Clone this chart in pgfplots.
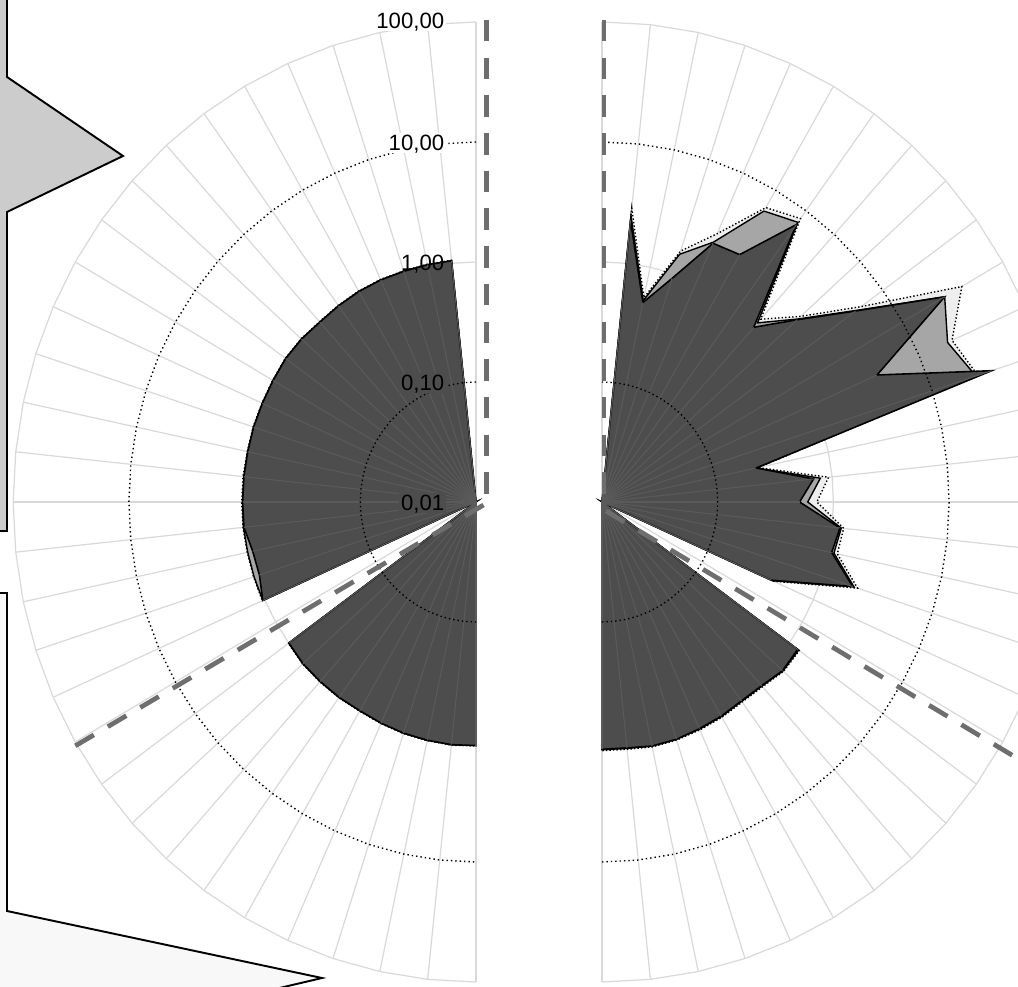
\documentclass[border=0pt]{standalone}
\usepackage{pgfplots}
\pgfplotsset{compat=1.18}
\usepackage{pgfplotstable}
\usepackage{fontspec}
\setmainfont{Liberation Sans}
\definecolor{darkfill}{HTML}{4D4D4D}
\definecolor{midfill}{HTML}{A6A6A6}
\definecolor{lightfill}{HTML}{EEEEEE}
\definecolor{gridgray}{HTML}{D9D9D9}
\definecolor{dashgray}{HTML}{6E6E6E}
\definecolor{innerspoke}{HTML}{5A5A5A}
\definecolor{shapegray}{HTML}{CCCCCC}
\definecolor{shapelight}{HTML}{F8F8F8}

% a = angle (deg), d = dark series, m = medium series, l = light (dotted) series
\pgfplotstableread{
a d m l
90 0.01 0.01 0.01
96 1.05 1.05 1.06
102 1.05 1.05 1.06
108 1.05 1.05 1.06
114 1.06 1.06 1.07
120 1.06 1.06 1.07
126 1.05 1.05 1.06
132 1.04 1.04 1.05
138 1.07 1.07 1.08
144 1.08 1.08 1.09
150 1.06 1.06 1.07
156 1.05 1.05 1.06
162 1.05 1.05 1.06
168 1.04 1.04 1.05
174 1.04 1.04 1.06
180 1.04 1.04 1.06
186 1.04 1.05 1.06
192 0.94 1.04 1.05
198 0.93 1.04 1.05
204 1.04 1.04 1.05
210 0.01 0.01 0.01
216 1.00 1.00 1.01
222 1.03 1.03 1.04
228 1.03 1.03 1.04
234 1.03 1.03 1.04
240 1.02 1.02 1.03
246 1.04 1.04 1.05
252 1.06 1.06 1.07
258 1.07 1.07 1.08
264 1.08 1.08 1.09
270 1.07 1.07 1.08
}\lefttab

\pgfplotstableread{
a d m l
90 0.01 0.01 0.01
84 2.29 2.5 2.9
78 0.50 0.52 0.55
72 0.91 1.48 1.58
66 2.29 2.35 2.8
60 2.40 6.3 6.8
54 7.2 7.6 8.3
48 0.91 1.02 1.12
42 1.86 1.9 2.05
36 5.1 5.2 5.9
30 26.3 26.3 39
24 4.0 18.6 20.5
18 34.7 25 26
12 0.23 0.23 0.24
6 0.69 0.79 0.93
0 0.51 0.60 0.72
-6 1.17 1.2 1.26
-12 1.07 1.12 1.2
-18 1.9 1.95 2.1
-24 0.40 0.41 0.42
-30 0.01 0.01 0.01
-36 1.23 1.26 1.28
-42 1.26 1.27 1.29
-48 1.15 1.16 1.18
-54 1.12 1.13 1.15
-60 1.15 1.16 1.18
-66 1.17 1.18 1.2
-72 1.2 1.2 1.22
-78 1.2 1.2 1.22
-84 1.15 1.16 1.18
-90 1.15 1.16 1.18
}\righttab

\begin{document}
\begin{tikzpicture}
\begin{axis}[width=10.18cm, height=9.86cm, scale only axis,
  xmin=-4.1141, xmax=4.6845, ymin=-4.0333, ymax=4.1833,
  hide axis, clip=true]
\path (rel axis cs:0,0) rectangle (rel axis cs:1,1);

% side shapes
\filldraw[fill=shapegray, draw=black, line width=0.55pt]
  (axis cs:-4.3,4.3) -- (axis cs:-4.0536,4.3) -- (axis cs:-4.0536,3.5417)
  -- (axis cs:-3.0510,2.8833) -- (axis cs:-4.0536,2.4167)
  -- (axis cs:-4.0536,-0.2417) -- (axis cs:-4.3,-0.2417) -- cycle;
\filldraw[fill=shapelight, draw=black, line width=0.55pt]
  (axis cs:-4.3,-0.7583) -- (axis cs:-4.0536,-0.7583) -- (axis cs:-4.0536,-3.4083)
  -- (axis cs:-1.331,-3.9667) -- (axis cs:-1.9187,-4.1) -- (axis cs:-4.3,-4.1) -- cycle;

% spokes
\pgfplotsinvokeforeach{0,...,30}{
  \draw[gridgray, line width=0.35pt] (axis cs:0,0) -- (axis cs:{4*cos(90+6*#1)},{4*sin(90+6*#1)});
  \draw[gridgray, line width=0.35pt] (axis cs:1.089,0) -- (axis cs:{1.089+4*cos(-90+6*#1)},{4*sin(-90+6*#1)});
}
% solid light rings (1 and 100)
\draw[gridgray, line width=0.35pt] plot[domain=90:270, samples=31, variable=\t] (axis cs:{4*cos(\t)},{4*sin(\t)});
\draw[gridgray, line width=0.35pt] plot[domain=90:270, samples=31, variable=\t] (axis cs:{2*cos(\t)},{2*sin(\t)});
\draw[gridgray, line width=0.35pt] plot[domain=-90:90, samples=31, variable=\t] (axis cs:{1.089+4*cos(\t)},{4*sin(\t)});
\draw[gridgray, line width=0.35pt] plot[domain=-90:90, samples=31, variable=\t] (axis cs:{1.089+2*cos(\t)},{2*sin(\t)});

% series, left half
\addplot[fill=lightfill, draw=black, line width=0.4pt, dash pattern=on 0.4pt off 0.6pt]
  table[x expr={(log10(\thisrow{l})+2)*cos(\thisrow{a})}, y expr={(log10(\thisrow{l})+2)*sin(\thisrow{a})}] {\lefttab} -- cycle;
\addplot[fill=midfill, draw=black, line width=0.4pt]
  table[x expr={(log10(\thisrow{m})+2)*cos(\thisrow{a})}, y expr={(log10(\thisrow{m})+2)*sin(\thisrow{a})}] {\lefttab} -- cycle;
\addplot[fill=darkfill, draw=black, line width=0.45pt]
  table[x expr={(log10(\thisrow{d})+2)*cos(\thisrow{a})}, y expr={(log10(\thisrow{d})+2)*sin(\thisrow{a})}] {\lefttab} -- cycle;
\addplot[draw=innerspoke, line width=0.3pt,
  quiver={u={-(log10(\thisrow{d})+2)*cos(\thisrow{a})}, v={-(log10(\thisrow{d})+2)*sin(\thisrow{a})}}]
  table[x expr={(log10(\thisrow{d})+2)*cos(\thisrow{a})}, y expr={(log10(\thisrow{d})+2)*sin(\thisrow{a})}] {\lefttab};

% series, right half
\addplot[fill=lightfill, draw=black, line width=0.4pt, dash pattern=on 0.4pt off 0.6pt]
  table[x expr={1.089+(log10(\thisrow{l})+2)*cos(\thisrow{a})}, y expr={(log10(\thisrow{l})+2)*sin(\thisrow{a})}] {\righttab} -- cycle;
\addplot[fill=midfill, draw=black, line width=0.4pt]
  table[x expr={1.089+(log10(\thisrow{m})+2)*cos(\thisrow{a})}, y expr={(log10(\thisrow{m})+2)*sin(\thisrow{a})}] {\righttab} -- cycle;
\addplot[fill=darkfill, draw=black, line width=0.45pt]
  table[x expr={1.089+(log10(\thisrow{d})+2)*cos(\thisrow{a})}, y expr={(log10(\thisrow{d})+2)*sin(\thisrow{a})}] {\righttab} -- cycle;
\addplot[draw=innerspoke, line width=0.3pt,
  quiver={u={-(log10(\thisrow{d})+2)*cos(\thisrow{a})}, v={-(log10(\thisrow{d})+2)*sin(\thisrow{a})}}]
  table[x expr={1.089+(log10(\thisrow{d})+2)*cos(\thisrow{a})}, y expr={(log10(\thisrow{d})+2)*sin(\thisrow{a})}] {\righttab};

% dotted rings (0.1 and 10)
\draw[black, line width=0.4pt, dash pattern=on 0.4pt off 0.85pt] plot[domain=90:270, samples=31, variable=\t] (axis cs:{cos(\t)},{sin(\t)});
\draw[black, line width=0.4pt, dash pattern=on 0.4pt off 0.85pt] plot[domain=90:270, samples=31, variable=\t] (axis cs:{3*cos(\t)},{3*sin(\t)});
\draw[black, line width=0.4pt, dash pattern=on 0.4pt off 0.85pt] plot[domain=-90:90, samples=31, variable=\t] (axis cs:{1.089+cos(\t)},{sin(\t)});
\draw[black, line width=0.4pt, dash pattern=on 0.4pt off 0.85pt] plot[domain=-90:90, samples=31, variable=\t] (axis cs:{1.089+3*cos(\t)},{3*sin(\t)});

% dashed rays
\draw[dashgray, line width=1.34pt, dash pattern=on 2.15mm off 1.62mm] (axis cs:0.0908,4.0167) -- (axis cs:0.0908,0.05);
\draw[dashgray, line width=1.34pt, dash pattern=on 2.15mm off 1.62mm] (axis cs:0.0648,-0.025) -- (axis cs:-3.509,-2.058);
\draw[dashgray, line width=1.34pt, dash pattern=on 2.15mm off 1.62mm] (axis cs:1.1063,4.0167) -- (axis cs:1.1063,0.0167);
\draw[dashgray, line width=1.34pt, dash pattern=on 2.15mm off 1.62mm] (axis cs:1.1236,-0.075) -- (axis cs:4.875,-2.25);

% ring labels
\tikzset{ringlab/.style={anchor=east, inner sep=0.6pt, text depth=0pt, font=\fontsize{6.3}{7.5}\selectfont}}
\node[ringlab, fill=white] at (axis cs:-0.251,4.008) {100,00};
\node[ringlab, fill=white] at (axis cs:-0.251,2.992) {10,00};
\node[ringlab] at (axis cs:-0.251,1.992) {1,00};
\node[ringlab, fill=darkfill] at (axis cs:-0.251,0.992) {0,10};
\node[ringlab, fill=darkfill] at (axis cs:-0.251,-0.008) {0,01};
\end{axis}
\end{tikzpicture}
\end{document}
